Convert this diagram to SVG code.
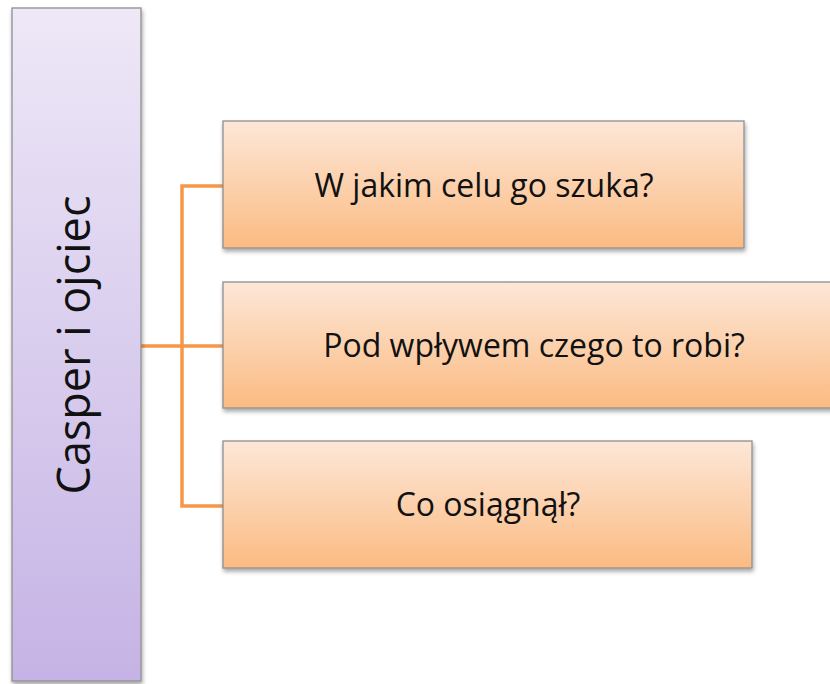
<svg xmlns="http://www.w3.org/2000/svg" width="830" height="684" viewBox="0 0 830 684">
<defs>
<linearGradient id="gp" x1="0" y1="0" x2="0" y2="1"><stop offset="0" stop-color="#EEE8F7"/><stop offset="1" stop-color="#C5B3E5"/></linearGradient>
<linearGradient id="go" x1="0" y1="0" x2="0" y2="1"><stop offset="0" stop-color="#FDE7D8"/><stop offset="1" stop-color="#FBBB82"/></linearGradient>
<filter id="sh" x="-5%" y="-5%" width="110%" height="115%"><feGaussianBlur in="SourceAlpha" stdDeviation="2"/><feOffset dx="1" dy="3"/><feComponentTransfer><feFuncA type="linear" slope="0.35"/></feComponentTransfer><feMerge><feMergeNode/><feMergeNode in="SourceGraphic"/></feMerge></filter>
</defs>
<style>
.box{stroke:#8f8f8f;stroke-width:1.3;filter:url(#sh)}
.t{font-family:"Open Sans","Noto Sans",sans-serif;fill:#111;text-anchor:middle}
.c{fill:none;stroke:#F79646;stroke-width:3.5}
</style>
<g id="connectors">
<path class="c" d="M141 346 H223"/>
<path class="c" d="M223 186 H182 V506 H223"/>
</g>
<g id="root">
<rect class="box" x="12" y="8" width="129" height="673" fill="url(#gp)"/>
<text class="t" font-size="45" transform="translate(90 345) rotate(-90)">Casper i ojciec</text>
</g>
<g id="n1">
<rect class="box" x="223" y="121" width="521" height="127" fill="url(#go)"/>
<text class="t" font-size="32" x="484" y="197">W jakim celu go szuka?</text>
</g>
<g id="n2">
<rect class="box" x="223" y="282" width="620" height="126" fill="url(#go)"/>
<text class="t" font-size="32" x="534" y="357">Pod wpływem czego to robi?</text>
</g>
<g id="n3">
<rect class="box" x="223" y="441" width="529" height="127" fill="url(#go)"/>
<text class="t" font-size="32" x="488" y="516">Co osiągnął?</text>
</g>
</svg>
